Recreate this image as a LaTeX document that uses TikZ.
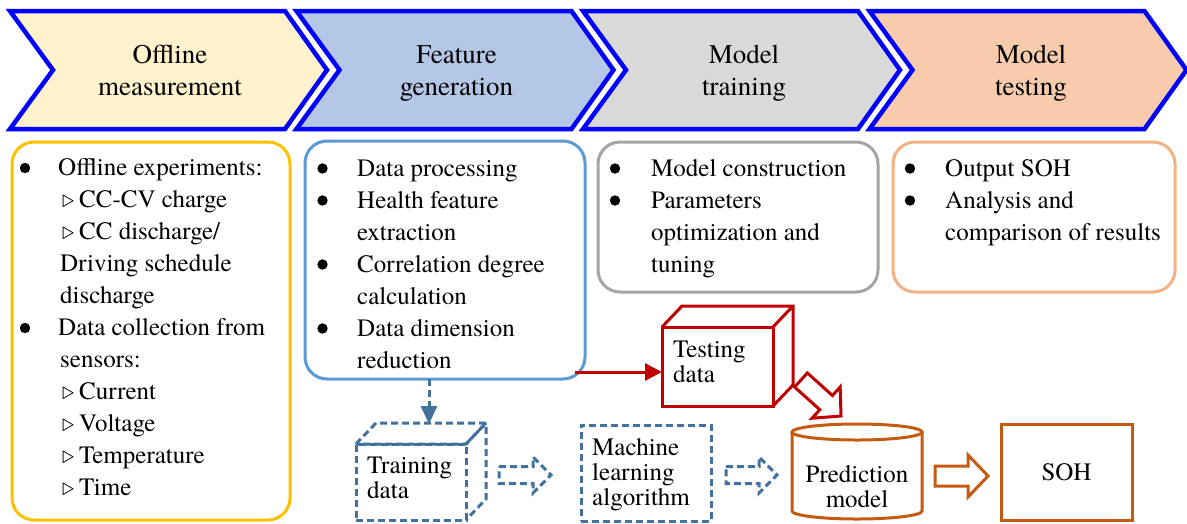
\documentclass[tikz,border=0pt]{standalone}
\usepackage{fontspec}
\setmainfont{TeX Gyre Termes}
\usetikzlibrary{calc,arrows.meta}

\definecolor{chevblue}{HTML}{0000FF}
\definecolor{fillA}{HTML}{FFF2CC}
\definecolor{fillB}{HTML}{B4C7E7}
\definecolor{fillC}{HTML}{D9D9D9}
\definecolor{fillD}{HTML}{F8CBAD}
\definecolor{lineA}{HTML}{FFC000}
\definecolor{lineB}{HTML}{5B9BD5}
\definecolor{lineC}{HTML}{A5A5A5}
\definecolor{lineD}{HTML}{F4B183}
\definecolor{darkred}{HTML}{C00000}
\definecolor{steel}{HTML}{41719C}
\definecolor{rust}{HTML}{C55A11}

\newcommand\chevfont{\fontsize{27}{32}\selectfont}
\newcommand\listfont{\fontsize{25}{32}\selectfont}
\newcommand\tightfont{\fontsize{25}{25}\selectfont}
% open triangle before a sub-item
\newcommand\tri{\leavevmode\llap{$\triangleright$\hspace{5pt}}}

% hollow block arrow: style, tail, tip, half shaft, half head, head length
\newcommand\blockarrow[6]{%
  \coordinate (bk-base) at ($(#3)!#6!(#2)$);
  \draw[#1] ($(#2)!#4!90:(#3)$) -- ($(bk-base)!#4!90:(#3)$)
    -- ($(bk-base)!#5!90:(#3)$) -- (#3) -- ($(bk-base)!#5!-90:(#3)$)
    -- ($(bk-base)!#4!-90:(#3)$) -- ($(#2)!#4!-90:(#3)$) -- cycle;}

\tikzset{
  chevron/.style={draw=chevblue, line width=4.5pt, line join=miter},
  chevlabel/.style={inner sep=0pt, anchor=base},
  listbox/.style={rounded corners=22pt, line width=3pt, outer sep=0pt,
    inner sep=0pt, anchor=north west},
  txt/.style={inner sep=0pt, anchor=base west},
  ctxt/.style={inner sep=0pt, anchor=base},
  solidface/.style={draw=darkred, line width=3pt, line join=miter},
  dashface/.style={draw=steel, line width=3pt, line join=miter,
    dash pattern=on 7pt off 4pt},
  facebox/.style={minimum width=#1, inner sep=0pt, outer sep=0pt},
  rustline/.style={draw=rust, line width=3pt, line join=miter},
  dot/.style={fill=black},
}

\begin{document}
\begin{tikzpicture}[x=1pt, y=-1pt]
\fill[white] (0,0) rectangle (1187,523);
\useasboundingbox (0,0) rectangle (1187,523);

% process chevrons
\foreach \x/\f in {10/fillA, 296.5/fillB, 583/fillC, 869.5/fillD}
  \draw[chevron, fill=\f] (\x,11) -- ++(275,0) -- ++(42,59) -- ++(-42,59)
    -- ++(-275,0) -- ++(43,-59) -- cycle;

\node[chevlabel] (h1) at (170,63)
  {\parbox[t]{240pt}{\centering\chevfont Offline\\measurement}};
\node[chevlabel] (h2) at (456.5,63)
  {\parbox[t]{240pt}{\centering\chevfont Feature\\generation}};
\node[chevlabel] (h3) at (744,63)
  {\parbox[t]{240pt}{\centering\chevfont Model\\training}};
\node[chevlabel] (h4) at (1031,63)
  {\parbox[t]{240pt}{\centering\chevfont Model\\testing}};

% task boxes
\node[listbox, draw=lineA, minimum width=278pt, minimum height=378pt] (box1) at (12,142) {};
\node[listbox, draw=lineB, minimum width=280pt, minimum height=238pt] (box2) at (305,141) {};
\node[listbox, draw=lineC, minimum width=280pt, minimum height=150pt] (box3) at (598,142) {};
\node[listbox, draw=lineD, minimum width=282pt, minimum height=150pt] (box4) at (893,142) {};

\node[txt] (t1) at (58,175.5) {\parbox[t]{240pt}{\listfont
  Offline experiments:\\
  \hspace*{21pt}\tri CC-CV charge\\
  \hspace*{21pt}\tri CC discharge/\\
  \hspace*{2pt}Driving schedule\\
  \hspace*{2pt}discharge\\
  Data collection from\\
  \hspace*{2pt}sensors:\\
  \hspace*{21pt}\tri Current\\
  \hspace*{21pt}\tri Voltage\\
  \hspace*{21pt}\tri Temperature\\
  \hspace*{21pt}\tri Time}};

\node[txt] (t2) at (357,176) {\parbox[t]{230pt}{\listfont
  Data processing\\
  Health feature\\
  extraction\\
  Correlation degree\\
  calculation\\
  Data dimension\\
  reduction}};

\node[txt] (t3) at (651,176) {\parbox[t]{230pt}{\listfont
  Model construction\\
  Parameters\\
  optimization and\\
  tuning}};

\node[txt] (t4) at (945,176) {\parbox[t]{230pt}{\listfont
  Output SOH\\
  Analysis and\\
  comparison of results}};

% list bullets
\foreach \bx/\by in {25/168, 25/328,
    322.5/168.5, 322.5/200.5, 322.5/264.5, 322.5/328.5,
    615/168.5, 615/200.5, 910/168.5, 910/200.5}
  \fill[dot] (\bx,\by) circle[radius=5.2pt];

% testing data cube
\node[solidface, facebox=111pt, minimum height=79pt] (test) at (717.5,366.5) {};
\draw[solidface] (test.north west) -- ++(20,-21) -- ($(test.north east)+(20,-21)$)
  -- ($(test.south east)+(20,-21)$) -- (test.south east)
  (test.north east) -- ++(20,-21);
\node[txt] (testlbl) at (673,357) {\parbox[t]{100pt}{\tightfont Testing\\data}};

% training data cube
\node[dashface, facebox=110pt, minimum height=76pt] (train) at (411,482) {};
\draw[dashface] (train.north west) -- ++(20,-21) -- ($(train.north east)+(20,-21)$)
  -- (train.north east) -- cycle;
\draw[dashface] (train.north east) -- ++(20,-21) -- ($(train.south east)+(20,-21)$)
  -- (train.south east);
\node[txt] (trainlbl) at (367,473) {\parbox[t]{100pt}{\tightfont Training\\data}};

% learning algorithm
\node[dashface, facebox=130pt, minimum height=96pt] (ml) at (646,473) {};
\node[txt] (mllbl) at (592,455) {\parbox[t]{120pt}{\tightfont Machine\\learning\\algorithm}};

% prediction model cylinder
\draw[rustline] (857,432) ellipse [x radius=65pt, y radius=8pt];
\draw[rustline] (792,432) -- (792,511) arc[start angle=180, end angle=360,
  x radius=65pt, y radius=8pt] -- (922,432);
\node[ctxt] (pred) at (857,482) {\parbox[t]{120pt}{\centering\tightfont Prediction\\model}};

% output
\node[rustline, facebox=131pt, minimum height=96pt, font=\tightfont] (soh) at (1066.5,472) {SOH};

% connectors
\coordinate (rstart) at (575,372);
\draw[darkred, line width=3pt, -{Triangle[length=17pt,width=17pt]}]
  (rstart) -- (test.west |- rstart);

\coordinate (dtip) at (429,424);
\draw[steel, line width=3pt, dash pattern=on 7pt off 4pt,
  -{Triangle[length=18pt,width=16pt]}] (dtip |- box2.south) -- (dtip);

\coordinate (ba1-tail) at (499,475);
\coordinate (ba1-tip) at (551,475);
\blockarrow{dashface}{ba1-tail}{ba1-tip}{8.5pt}{18pt}{18pt}

\coordinate (ba2-tail) at (726,475);
\coordinate (ba2-tip) at (777,475);
\blockarrow{dashface}{ba2-tail}{ba2-tip}{8.5pt}{18pt}{18pt}

\coordinate (ra-tail) at (801,380);
\coordinate (ra-tip) at (841,416);
\blockarrow{solidface}{ra-tail}{ra-tip}{9.5pt}{21pt}{20pt}

\coordinate (oa-tail) at (935,476);
\coordinate (oa-tip) at (988,476);
\blockarrow{rustline}{oa-tail}{oa-tip}{10pt}{21pt}{20pt}
\end{tikzpicture}
\end{document}
